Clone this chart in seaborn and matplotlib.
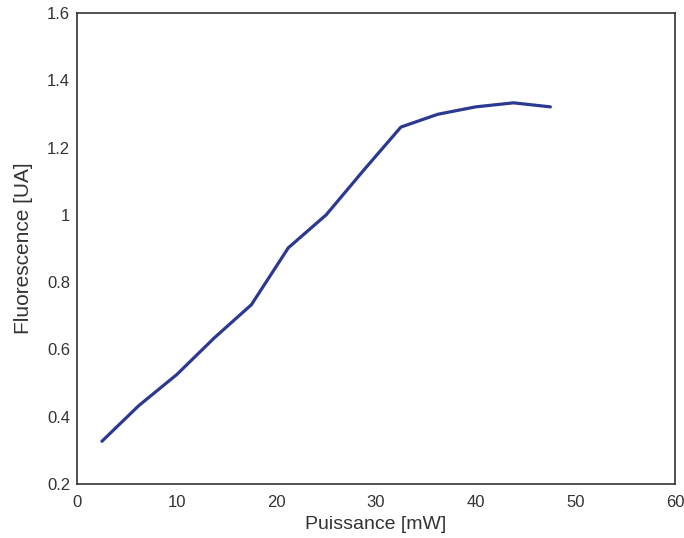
import matplotlib
matplotlib.use('Agg')
import matplotlib.pyplot as plt
import seaborn as sns
import pandas as pd
from matplotlib.ticker import FuncFormatter

# Data
puissance = [2.5, 6.2, 10.0, 13.8, 17.5, 21.2, 25.0, 28.8, 32.5, 36.2, 40.0, 43.8, 47.5]
fluorescence = [0.327, 0.433, 0.525, 0.635, 0.733, 0.902, 1.0, 1.134, 1.261, 1.299, 1.321, 1.333, 1.321]

df = pd.DataFrame({'Puissance': puissance, 'Fluorescence': fluorescence})

sns.set_style('white')
plt.rcParams['font.family'] = ['Liberation Sans', 'DejaVu Sans']

fig = plt.figure(figsize=(6.84, 5.38), dpi=100)
ax = fig.add_axes([0.1126, 0.1004, 0.8742, 0.8754])
sns.lineplot(data=df, x='Puissance', y='Fluorescence', ax=ax, color='#2b3990', linewidth=2.3)

ax.set_xlim(0, 60)
ax.set_ylim(0.2, 1.6)
ax.set_xticks(range(0, 61, 10))
ax.set_yticks([0.2, 0.4, 0.6, 0.8, 1.0, 1.2, 1.4, 1.6])
ax.yaxis.set_major_formatter(FuncFormatter(lambda v, p: f'{v:g}'))
ax.tick_params(axis='both', length=0, labelsize=12, colors='#333333')
ax.tick_params(axis='x', pad=8)
ax.tick_params(axis='y', pad=5)
ax.set_xlabel('Puissance [mW]', fontsize=14, color='#333333', labelpad=4)
ax.set_ylabel('Fluorescence [UA]', fontsize=15, color='#333333', labelpad=10)
for s in ax.spines.values():
    s.set_color('#333333')
    s.set_linewidth(1.2)

fig.savefig('out.png', dpi=100)
